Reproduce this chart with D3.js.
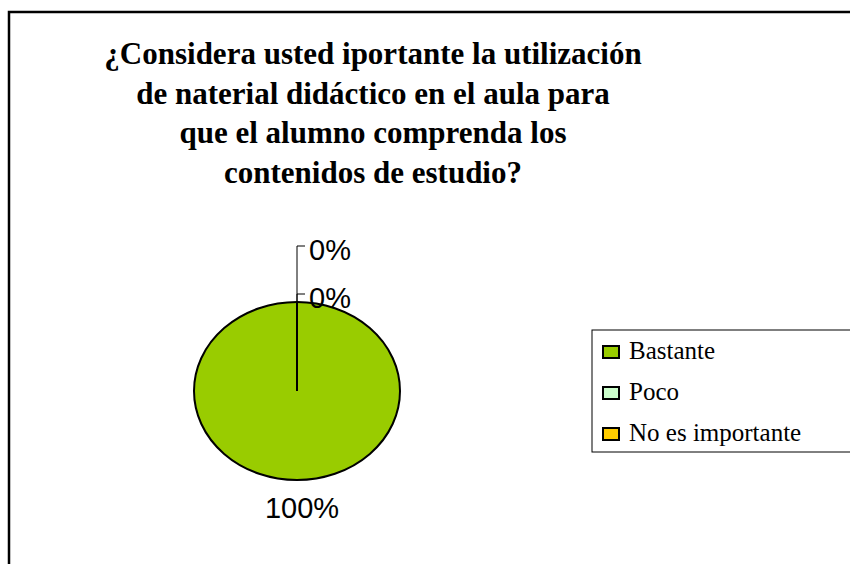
<!DOCTYPE html>
<html>
<head>
<meta charset="utf-8">
<script src="https://cdn.jsdelivr.net/npm/d3@7"></script>
<style>
body { margin: 0; background: #fff; }
svg { display: block; }
.title { font-family: "Liberation Serif", "Times New Roman", serif; font-weight: bold; font-size: 31px; }
.pctLabel { font-family: "Liberation Sans", Arial, sans-serif; font-size: 29px; }
.legendText { font-family: "Liberation Serif", "Times New Roman", serif; font-size: 25px; }
</style>
</head>
<body>
<div id="chart"></div>
<script>
//--------------------------------- data ---------------------------------
var categories = ["Bastante", "Poco", "No es importante"];
var values = [100, 0, 0];
var colors = ["#99CC00", "#CCFFCC", "#FFCC00"];
var titleLines = [
	"¿Considera usted iportante la utilización",
	"de naterial didáctico en el aula para",
	"que el alumno comprenda los",
	"contenidos de estudio?"
];

var width = 850, height = 564;

var svg = d3.select("#chart")
	.append("svg")
	.attr("width", width)
	.attr("height", height);

//outer frame, runs off the right and bottom
svg.append("rect")
	.attr("x", 9)
	.attr("y", 12)
	.attr("width", 900)
	.attr("height", 600)
	.style("fill", "none")
	.style("stroke", "#000")
	.style("stroke-width", 2.5);

//---------------------------------------- title ----------------------------------------
svg.selectAll(".title")
	.data(titleLines)
	.enter().append("text")
	.attr("class", "title")
	.attr("x", 373)
	.attr("y", function(d, i) { return 64 + i * 39.5; })
	.style("text-anchor", "middle")
	.text(function(d) { return d; });

//---------------------------------------- pie ----------------------------------------
var cx = 297, cy = 391, rx = 103, ry = 89;

var pie = d3.pie().sort(null).value(function(d) { return d; });
var arcs = pie(values);
var arc = d3.arc().innerRadius(0).outerRadius(rx);

//ellipse = circle squashed in y
var pieG = svg.append("g")
	.attr("transform", "translate(" + cx + "," + cy + ") scale(1," + (ry / rx) + ")");

pieG.selectAll(".slice")
	.data(arcs)
	.enter().append("path")
	.attr("class", "slice")
	.attr("d", arc)
	.style("fill", function(d, i) { return colors[i]; })
	.style("stroke", "#000")
	.style("stroke-width", 2)
	.attr("vector-effect", "non-scaling-stroke");

//point on the ellipse edge for an angle
function edgePoint(a) {
	return [cx + rx * Math.sin(a), cy - ry * Math.cos(a)];
}

//---------------------------------------- labels ----------------------------------------
var fmt = function(v) { return d3.format(".0f")(v) + "%"; };

//big slice label under the pie
arcs.forEach(function(d, i) {
	if (d.endAngle - d.startAngle > 0.5) {
		var mid = (d.startAngle + d.endAngle) / 2;
		var p = edgePoint(mid);
		svg.append("text")
			.attr("class", "pctLabel")
			.attr("x", p[0] + 5)
			.attr("y", p[1] + 38)
			.style("text-anchor", "middle")
			.text(fmt(values[i]));
	}
});

//zero slices get leader lines stacked up from the top
var zeroArcs = arcs.filter(function(d) { return d.endAngle - d.startAngle < 0.01; });
zeroArcs.forEach(function(d, k) {
	var p = edgePoint(d.startAngle);
	var ly = p[1] - 8 - (zeroArcs.length - 1 - k) * 48;
	svg.append("path")
		.attr("d", "M" + p[0] + "," + p[1] + "L" + p[0] + "," + ly + "L" + (p[0] + 8) + "," + ly)
		.style("fill", "none")
		.style("stroke", "#000")
		.style("stroke-width", 1);
	svg.append("text")
		.attr("class", "pctLabel")
		.attr("x", p[0] + 12)
		.attr("y", ly + 14)
		.text(fmt(values[arcs.indexOf(d)]));
});

//---------------------------------------- legend ----------------------------------------
var legend = svg.append("g").attr("transform", "translate(592,330)");

legend.append("rect")
	.attr("width", 300)
	.attr("height", 122)
	.style("fill", "#fff")
	.style("stroke", "#000")
	.style("stroke-width", 1);

var items = legend.selectAll(".legendItem")
	.data(categories)
	.enter().append("g")
	.attr("class", "legendItem")
	.attr("transform", function(d, i) { return "translate(0," + (i * 41) + ")"; });

items.append("rect")
	.attr("x", 11)
	.attr("y", 16)
	.attr("width", 16)
	.attr("height", 12)
	.style("fill", function(d, i) { return colors[i]; })
	.style("stroke", "#000")
	.style("stroke-width", 2);

items.append("text")
	.attr("class", "legendText")
	.attr("x", 37)
	.attr("y", 29)
	.text(function(d) { return d; });
</script>
</body>
</html>
